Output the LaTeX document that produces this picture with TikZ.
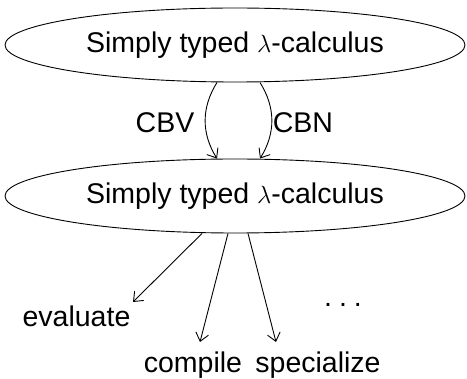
\documentclass[tikz,border=0pt]{standalone}
\usepackage{fontspec}
\setmainfont{Liberation Sans}
\usetikzlibrary{shapes.geometric,arrows.meta}
\begin{document}
\begin{tikzpicture}[x=1pt,y=-1pt,
  lam/.style={ellipse,draw,line width=0.9pt,minimum width=460pt,minimum height=74pt,inner sep=0pt},
  lbl/.style={font=\fontsize{28.5}{30}\selectfont,inner sep=0pt},
  arr/.style={line width=0.9pt,-{Straight Barb[length=8pt,width=13pt]}}]
\useasboundingbox (0,0) rectangle (467,379);
\node[lam] (top) at (235,45) {\fontsize{28.5}{30}\selectfont Simply typed $\lambda$-calculus};
\node[lam] (bot) at (235,196) {\fontsize{28.5}{30}\selectfont Simply typed $\lambda$-calculus};
\draw[arr] ([xshift=-18pt]top.south) to[out=-122,in=122] ([xshift=-18pt]bot.north);
\draw[arr] ([xshift=25pt]top.south) to[out=-58,in=58] ([xshift=25pt]bot.north);
\node[lbl] (cbv) at (165,123) {CBV};
\node[lbl] (cbn) at (303,123) {CBN};
\coordinate (evend) at (133,302);
\coordinate (coend) at (200,342);
\coordinate (spend) at (276,342);
\draw[arr] ([xshift=-33pt]bot.south) -- (evend);
\draw[arr] ([xshift=-7pt]bot.south) -- (coend);
\draw[arr] ([xshift=13pt]bot.south) -- (spend);
\node[lbl,anchor=base] (ev) at (76.5,327) {evaluate};
\node[lbl,anchor=base] (co) at (193,373) {compile};
\node[lbl,anchor=base] (sp) at (318,373) {specialize};
\node[lbl,anchor=base] (dots) at (343,307) {.\hspace{7pt}.\hspace{7pt}.};
\end{tikzpicture}
\end{document}
